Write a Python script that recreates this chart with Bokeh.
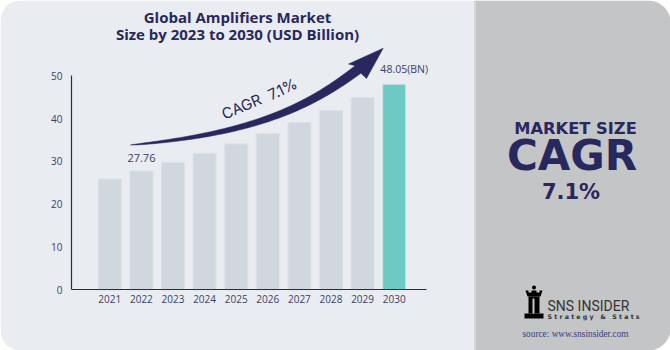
import math
from bokeh.plotting import figure
from bokeh.models import Range1d, LinearAxis, FixedTicker, ColumnDataSource
from bokeh.core.properties import value
from bokeh.embed import file_html
from bokeh.resources import INLINE

# ---------------- data ----------------
years = [2021, 2022, 2023, 2024, 2025, 2026, 2027, 2028, 2029, 2030]
market_size = [25.9, 27.76, 29.8, 31.9, 34.1, 36.5, 39.1, 41.9, 44.9, 48.05]
y_ticks = [0, 10, 20, 30, 40, 50]
title_lines = ["Global Amplifiers Market", "Size by 2023 to 2030 (USD Billion)"]
first_value_label = "27.76"
last_value_label = "48.05(BN)"
cagr_words = ["CAGR", "7.1%"]
side_texts = ["MARKET SIZE", "CAGR", "7.1%"]
brand = "SNS INSIDER"
brand_sub = "S\u00a0t\u00a0r\u00a0a\u00a0t\u00a0e\u00a0g\u00a0y\u00a0\u00a0\u00a0&\u00a0\u00a0\u00a0S\u00a0t\u00a0a\u00a0t\u00a0s"
source_text = "source: www.snsinsider.com"

# ---------------- layout constants ----------------
W, H = 670, 350
PX_PER_YEAR = 31.6
PX_PER_UNIT = 4.28
FIRST_BAR_PX = 109.3
ZERO_PX = 289.3

NAVY = "#28275e"
TICK_COL = "#3d3d66"
BAR_COL = "#d0d7de"
HIGHLIGHT = "#6cc9c4"


def dx(px):
    return years[0] + (px - FIRST_BAR_PX) / PX_PER_YEAR


def dy(py):
    return (ZERO_PX - py) / PX_PER_UNIT


p = figure(width=W, height=H, output_backend="svg", toolbar_location=None,
           x_range=Range1d(dx(0), dx(W)), y_range=Range1d(dy(H), dy(0)),
           x_axis_type=None, y_axis_type=None, min_border=0,
           outline_line_color=None)
p.background_fill_color = "white"
p.border_fill_color = "white"

# background panels
p.quad(left=dx(0), right=dx(500), top=dy(0), bottom=dy(H),
       fill_color="#e9ecf1", line_color=None, border_radius=20)
p.quad(left=dx(474), right=dx(W), top=dy(0), bottom=dy(H),
       fill_color="#c4c5c7", line_color=None, border_radius=(0, 22, 22, 0))
p.quad(left=dx(474), right=dx(475.5), top=dy(0), bottom=dy(H),
       fill_color="#d4d6d9", line_color=None)

# bars
colors = [BAR_COL] * (len(years) - 1) + [HIGHLIGHT]
src = ColumnDataSource(dict(x=years, top=market_size, color=colors))
p.vbar(x="x", top="top", bottom=0, width=0.73, source=src,
       fill_color="color", line_color="#dde2e7", line_width=1)

# axes
yaxis = LinearAxis(fixed_location=dx(71), bounds=(0, 50),
                   ticker=FixedTicker(ticks=y_ticks),
                   major_tick_in=0, major_tick_out=0,
                   minor_tick_in=0, minor_tick_out=0,
                   axis_line_color=NAVY, axis_line_width=1.2,
                   major_label_text_font="Open Sans",
                   major_label_text_font_size="10px",
                   major_label_text_color=TICK_COL,
                   major_label_standoff=9)
p.add_layout(yaxis, "left")
xaxis = LinearAxis(fixed_location=0, bounds=(dx(71), dx(426)),
                   ticker=FixedTicker(ticks=years),
                   major_tick_in=0, major_tick_out=0,
                   minor_tick_in=0, minor_tick_out=0,
                   axis_line_color=NAVY, axis_line_width=1.2,
                   major_label_text_font="Open Sans",
                   major_label_text_font_size="10px",
                   major_label_text_color=TICK_COL,
                   major_label_standoff=5)
p.add_layout(xaxis, "below")

# value labels
p.text(x=[years[1]], y=[market_size[1]], text=[first_value_label],
       x_offset=0, y_offset=-13, text_align="center", text_baseline="middle",
       text_font=value("Open Sans"), text_font_size="11px", text_color=TICK_COL)
p.text(x=[years[-1]], y=[market_size[-1]], text=[last_value_label],
       x_offset=10, y_offset=-15, text_align="center", text_baseline="middle",
       text_font=value("Open Sans"), text_font_size="10.5px", text_color=TICK_COL)

# title
for i, line in enumerate(title_lines):
    p.text(x=[dx(237)], y=[dy(16 + 17 * i)], text=[line],
           text_align="center", text_baseline="middle",
           text_font=value("Open Sans"), text_font_style="bold",
           text_font_size="15px", text_color=NAVY)

# curved arrow
P = [(130, 144.5), (260, 133), (312.5, 102.75), (357.5, 69)]


def bez(t):
    mt = 1 - t
    x = mt**3 * P[0][0] + 3 * mt**2 * t * P[1][0] + 3 * mt * t**2 * P[2][0] + t**3 * P[3][0]
    y = mt**3 * P[0][1] + 3 * mt**2 * t * P[1][1] + 3 * mt * t**2 * P[2][1] + t**3 * P[3][1]
    ddx = 3 * mt**2 * (P[1][0] - P[0][0]) + 6 * mt * t * (P[2][0] - P[1][0]) + 3 * t**2 * (P[3][0] - P[2][0])
    ddy = 3 * mt**2 * (P[1][1] - P[0][1]) + 6 * mt * t * (P[2][1] - P[1][1]) + 3 * t**2 * (P[3][1] - P[2][1])
    n = math.hypot(ddx, ddy)
    return x, y, ddx / n, ddy / n


N = 80
top_edge, bot_edge = [], []
for k in range(N + 1):
    t = k / N
    x, y, ux, uy = bez(t)
    h = 4.8 * t**0.55
    top_edge.append((x + h * uy, y - h * ux))
    bot_edge.append((x - h * uy, y + h * ux))
head = [(348, 63.5), (382.7, 47.7), (366, 78)]
poly = top_edge + head + bot_edge[::-1]
p.patch(x=[dx(a) for a, b in poly], y=[dy(b) for a, b in poly],
        fill_color=NAVY, line_color=NAVY, line_width=0.5)

# CAGR text along arrow
p.text(x=[dx(241)], y=[dy(106)], text=[cagr_words[0]], angle=math.radians(23),
       text_align="center", text_baseline="middle",
       text_font=value("Inter"), text_font_size="15px", text_color=NAVY)
p.text(x=[dx(282)], y=[dy(88.5)], text=[cagr_words[1]], angle=math.radians(26),
       text_align="center", text_baseline="middle",
       text_font=value("Inter"), text_font_size="15px", text_color=NAVY)

# right panel
p.text(x=[dx(575)], y=[dy(128)], text=[side_texts[0]],
       text_align="center", text_baseline="middle",
       text_font=value("DejaVu Sans"), text_font_style="bold",
       text_font_size="16.3px", text_color=NAVY)
p.text(x=[dx(571.5)], y=[dy(155)], text=[side_texts[1]],
       text_align="center", text_baseline="middle",
       text_font=value("DejaVu Sans"), text_font_style="bold",
       text_font_size="42px", text_color=NAVY)
p.text(x=[dx(570.5)], y=[dy(191)], text=[side_texts[2]],
       text_align="center", text_baseline="middle",
       text_font=value("DejaVu Sans"), text_font_style="bold",
       text_font_size="21px", text_color=NAVY)

# logo (simplified rook)
p.quad(left=dx(524), right=dx(543), top=dy(313), bottom=dy(318),
       fill_color="black", line_color=None)
p.quad(left=dx(528), right=dx(539), top=dy(296), bottom=dy(313),
       fill_color="black", line_color=None)
rook_top = [(525, 290), (528, 290), (528, 292), (531, 292), (531, 290), (536, 290),
            (536, 292), (539, 292), (539, 290), (542, 290), (540, 296), (527, 296)]
p.patch(x=[dx(a) for a, b in rook_top], y=[dy(b) for a, b in rook_top],
        fill_color="black", line_color=None)
p.scatter(x=[dx(533.5)], y=[dy(287)], size=4, marker="circle",
          fill_color="black", line_color=None)
p.quad(left=dx(532), right=dx(534), top=dy(298), bottom=dy(313),
       fill_color="#c4c5c7", line_color=None)

p.text(x=[dx(547)], y=[dy(305)], text=[brand],
       text_align="left", text_baseline="middle",
       text_font=value("'Liberation Sans Narrow', Roboto"),
       text_font_size="14px", text_color="#333333")
p.text(x=[dx(547)], y=[dy(316)], text=[brand_sub],
       text_align="left", text_baseline="middle",
       text_font=value("DejaVu Sans"), text_font_style="bold",
       text_font_size="6.3px", text_color="#333333")
p.text(x=[dx(575)], y=[dy(333)], text=[source_text],
       text_align="center", text_baseline="middle",
       text_font=value("Liberation Serif"),
       text_font_size="9.3px", text_color="#3c3c7c")

open("out.html", "w").write(file_html(p, INLINE))
